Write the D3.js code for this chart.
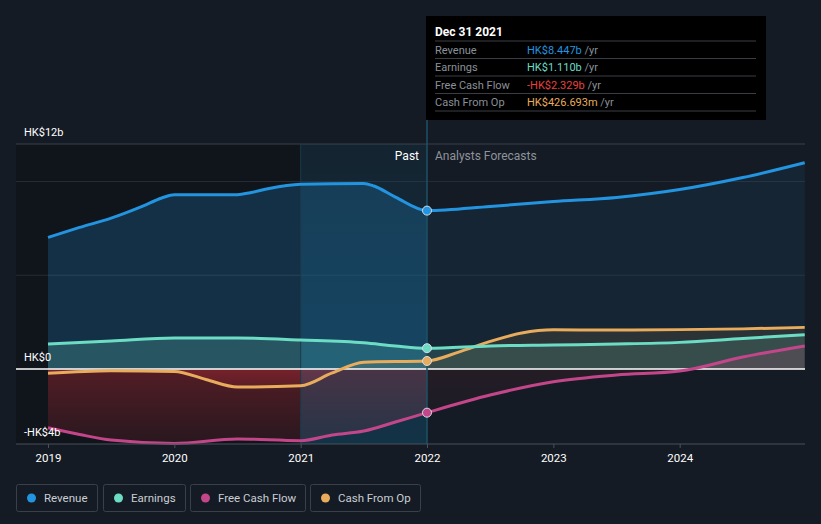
<!DOCTYPE html>
<html><head><meta charset="utf-8">
<script src="https://cdn.jsdelivr.net/npm/d3@7"></script>
<style>
html,body{margin:0;padding:0;background:#151b24;}
svg{display:block;font-family:Roboto,"Open Sans",sans-serif;}
</style></head>
<body><svg id="c" width="821" height="524"></svg>
<script>
// ---- data (values in HK$ billions, time as fractional years) ----
const revenueDates = [2019.0, 2019.25, 2019.5, 2019.75, 2019.9, 2020.0, 2020.5, 2020.6, 2020.75, 2021.0, 2021.5, 2021.58, 2021.75, 2022.0];
const revenueValues = [7.02, 7.55, 8.05, 8.69, 9.12, 9.30, 9.30, 9.40, 9.63, 9.85, 9.90, 9.76, 9.17, 8.447];
const revenueFcDates = [2022.0, 2022.5, 2023.0, 2023.5, 2024.0, 2024.5, 2024.99];
const revenueFcValues = [8.447, 8.67, 8.93, 9.15, 9.57, 10.21, 11.0];

const earningsDates = [2019.0, 2019.5, 2020.0, 2020.5, 2021.0, 2021.5, 2021.75, 2022.0];
const earningsValues = [1.33, 1.49, 1.65, 1.65, 1.55, 1.40, 1.23, 1.11];
const earningsFcDates = [2022.0, 2022.5, 2023.0, 2023.5, 2024.0, 2024.5, 2024.99];
const earningsFcValues = [1.11, 1.23, 1.28, 1.33, 1.42, 1.63, 1.83];

const fcfDates = [2019.0, 2019.25, 2019.5, 2020.0, 2020.5, 2021.0, 2021.25, 2021.5, 2021.75, 2022.0];
const fcfValues = [-3.13, -3.49, -3.79, -3.97, -3.73, -3.82, -3.52, -3.31, -2.83, -2.329];
const fcfFcDates = [2022.0, 2022.5, 2023.0, 2023.5, 2024.0, 2024.5, 2024.99];
const fcfFcValues = [-2.329, -1.39, -0.68, -0.32, -0.11, 0.64, 1.23];

const cfoDates = [2019.0, 2019.5, 2020.0, 2020.25, 2020.5, 2021.0, 2021.25, 2021.5, 2022.0];
const cfoValues = [-0.23, -0.09, -0.13, -0.56, -0.96, -0.89, -0.21, 0.36, 0.427];
const cfoFcDates = [2022.0, 2022.25, 2022.5, 2022.75, 2023.0, 2023.5, 2024.0, 2024.5, 2024.99];
const cfoFcValues = [0.427, 0.9, 1.47, 1.92, 2.09, 2.08, 2.10, 2.14, 2.22];

const xTickValues = [2019, 2020, 2021, 2022, 2023, 2024];
const xTickLabels = ["2019", "2020", "2021", "2022", "2023", "2024"];
const yLabelValues = [12, 0, -4];
const yLabelTexts = ["HK$12b", "HK$0", "-HK$4b"];
const yGridValues = [12, 10, 5];

const seriesNames = ["Revenue", "Earnings", "Free Cash Flow", "Cash From Op"];
const seriesColors = ["#2394df", "#6cdcc4", "#c4468a", "#e8ac5c"];
const tooltipDate = "Dec 31 2021";
const tooltipValues = ["HK$8.447b", "HK$1.110b", "-HK$2.329b", "HK$426.693m"];
const tooltipColors = ["#2394df", "#6cdcc4", "#e8403e", "#e8ac5c"];

// ---- scales ----
const svg = d3.select("#c");
const x = d3.scaleLinear().domain([2019, 2022]).range([48, 427]);
const y = d3.scaleLinear().domain([-4, 12]).range([444, 144]);
const plotL = 16, plotR = 805, now = 2022, hiStart = 2021;
const zeroY = y(0);

const defs = svg.append("defs");
function lg(id, stops, x1, y1, x2, y2) {
  const g = defs.append("linearGradient").attr("id", id)
    .attr("x1", x1).attr("y1", y1).attr("x2", x2).attr("y2", y2);
  stops.forEach(s => g.append("stop").attr("offset", s[0]).attr("stop-color", s[1]).attr("stop-opacity", s[2]));
}
lg("negPast", [[0, "#e0303a", 0.32], [1, "#e0303a", 0.12]], 0, 0, 0, 1);
lg("negFc", [[0, "#e0303a", 0.10], [1, "#e0303a", 0.03]], 0, 0, 0, 1);
lg("hiGrad", [[0, "#0a86bd", 0.08], [1, "#0a86bd", 0.22]], 0, 0, 0, 1);

defs.append("clipPath").attr("id", "cPastPos").append("rect")
  .attr("x", plotL).attr("y", 0).attr("width", x(now) - plotL).attr("height", zeroY);
defs.append("clipPath").attr("id", "cPastNeg").append("rect")
  .attr("x", plotL).attr("y", zeroY).attr("width", x(now) - plotL).attr("height", 200);
defs.append("clipPath").attr("id", "cFcPos").append("rect")
  .attr("x", x(now)).attr("y", 0).attr("width", plotR - x(now)).attr("height", zeroY);
defs.append("clipPath").attr("id", "cFcNeg").append("rect")
  .attr("x", x(now)).attr("y", zeroY).attr("width", plotR - x(now)).attr("height", 200);

// past dark band
svg.append("rect").attr("x", plotL).attr("y", y(12)).attr("width", x(hiStart) - plotL)
  .attr("height", y(-4) - y(12)).attr("fill", "#0f1318").attr("opacity", 0.75);

// gridlines
svg.append("g").selectAll("line").data(yGridValues).join("line")
  .attr("x1", plotL).attr("x2", plotR).attr("y1", d => y(d)).attr("y2", d => y(d))
  .attr("stroke", (d, i) => i === 0 ? "#3a414b" : "#262c36").attr("stroke-width", 1);

// areas + lines
const series = [
  {past: [revenueDates, revenueValues], fc: [revenueFcDates, revenueFcValues], pastOp: 0.22, fcOp: 0.09},
  {past: [earningsDates, earningsValues], fc: [earningsFcDates, earningsFcValues], pastOp: 0.22, fcOp: 0.16},
  {past: [fcfDates, fcfValues], fc: [fcfFcDates, fcfFcValues], pastOp: 0.2, fcOp: 0.16},
  {past: [cfoDates, cfoValues], fc: [cfoFcDates, cfoFcValues], pastOp: 0.15, fcOp: 0.10}
];
const toPts = (ds, vs) => ds.map((d, i) => [d, vs[i]]);
const area = d3.area().x(d => x(d[0])).y0(zeroY).y1(d => y(d[1])).curve(d3.curveMonotoneX);
const line = d3.line().x(d => x(d[0])).y(d => y(d[1])).curve(d3.curveMonotoneX);

const areaG = svg.append("g");
series.forEach((s, i) => {
  const pp = toPts(...s.past), fp = toPts(...s.fc);
  areaG.append("path").attr("d", area(pp)).attr("clip-path", "url(#cPastPos)")
    .attr("fill", seriesColors[i]).attr("fill-opacity", s.pastOp);
  areaG.append("path").attr("d", area(pp)).attr("clip-path", "url(#cPastNeg)")
    .attr("fill", "url(#negPast)");
  areaG.append("path").attr("d", area(fp)).attr("clip-path", "url(#cFcPos)")
    .attr("fill", seriesColors[i]).attr("fill-opacity", s.fcOp);
  areaG.append("path").attr("d", area(fp)).attr("clip-path", "url(#cFcNeg)")
    .attr("fill", "url(#negFc)");
});

// highlight band (last year before now)
svg.append("rect").attr("x", x(hiStart)).attr("y", y(12)).attr("width", x(now) - x(hiStart))
  .attr("height", y(-4) - y(12)).attr("fill", "url(#hiGrad)");
svg.append("line").attr("x1", x(hiStart)).attr("x2", x(hiStart)).attr("y1", y(12)).attr("y2", y(-4))
  .attr("stroke", "#1c3a48").attr("stroke-width", 1);

// zero line
svg.append("line").attr("x1", plotL).attr("x2", plotR).attr("y1", zeroY).attr("y2", zeroY)
  .attr("stroke", "#ffffff").attr("stroke-width", 1.3);

// now vertical line
svg.append("line").attr("x1", x(now)).attr("x2", x(now)).attr("y1", 118).attr("y2", y(-4))
  .attr("stroke", "#1d5266").attr("stroke-width", 1.5);

const lineG = svg.append("g");
[3, 2, 1, 0].forEach(i => {
  const s = series[i];
  const all = toPts(...s.past).concat(toPts(...s.fc).slice(1));
  lineG.append("path").attr("d", line(all)).attr("fill", "none")
    .attr("stroke", seriesColors[i]).attr("stroke-width", 3).attr("stroke-linejoin", "round");
});

// markers at now
const nowVals = [revenueValues, earningsValues, fcfValues, cfoValues].map(a => a[a.length - 1]);
svg.append("g").selectAll("circle").data(nowVals).join("circle")
  .attr("cx", x(now)).attr("cy", d => y(d)).attr("r", 4.5)
  .attr("fill", (d, i) => seriesColors[i]).attr("stroke", "#d8dde3").attr("stroke-width", 1);

// x axis
svg.append("line").attr("x1", plotL).attr("x2", plotR).attr("y1", y(-4)).attr("y2", y(-4))
  .attr("stroke", "#4a515b").attr("stroke-width", 1);
const xAxis = d3.axisBottom(x).tickValues(xTickValues).tickFormat((d, i) => xTickLabels[i]).tickSize(4).tickPadding(6);
const xg = svg.append("g").attr("transform", `translate(0,${y(-4)})`).call(xAxis);
xg.select(".domain").remove();
xg.selectAll(".tick line").attr("stroke", "#4a515b");
xg.selectAll(".tick text").attr("fill", "#ffffff").attr("font-size", 11.5).attr("font-family", "Roboto, sans-serif");

// y labels
svg.append("g").selectAll("text").data(yLabelValues).join("text")
  .attr("x", 24).attr("y", d => y(d) - 8).text((d, i) => yLabelTexts[i])
  .attr("fill", "#ffffff").attr("font-size", 11);

// Past / Analysts Forecasts
svg.append("text").attr("x", x(now) - 8).attr("y", 160).attr("text-anchor", "end")
  .attr("fill", "#ffffff").attr("font-size", 12).text("Past");
svg.append("text").attr("x", x(now) + 8).attr("y", 160)
  .attr("fill", "#8d939b").attr("font-size", 12).text("Analysts Forecasts");

// tooltip
const tt = svg.append("g").attr("transform", "translate(426,16)");
tt.append("rect").attr("width", 340).attr("height", 104).attr("fill", "#000000");
tt.append("text").attr("x", 9).attr("y", 20).attr("fill", "#ffffff").attr("font-size", 12)
  .attr("font-weight", "bold").text(tooltipDate);
[25, 42.5, 60, 77.5, 95].forEach(yy => tt.append("line").attr("x1", 9).attr("x2", 330)
  .attr("y1", yy).attr("y2", yy).attr("stroke", "#3a3e44").attr("stroke-width", 1));
seriesNames.forEach((n, i) => {
  const yy = 37.5 + i * 17.5;
  tt.append("text").attr("x", 9).attr("y", yy).attr("fill", "#8a9099").attr("font-size", 11).text(n);
  const t = tt.append("text").attr("x", 101).attr("y", yy).attr("font-size", 11);
  t.append("tspan").attr("fill", tooltipColors[i]).text(tooltipValues[i]);
  t.append("tspan").attr("fill", "#8a9099").text(" /yr");
});

// legend
const legX = [16, 103, 190, 310], legW = [81, 82, 115, 110];
const lgG = svg.append("g");
seriesNames.forEach((n, i) => {
  const g = lgG.append("g").attr("transform", `translate(${legX[i]},484)`);
  g.append("rect").attr("x", 0.5).attr("y", 0.5).attr("width", legW[i]).attr("height", 27).attr("rx", 2)
    .attr("fill", "none").attr("stroke", "#3a404a").attr("stroke-width", 1);
  g.append("circle").attr("cx", 15.5).attr("cy", 14).attr("r", 4.5).attr("fill", seriesColors[i]);
  g.append("text").attr("x", 28).attr("y", 18).attr("fill", "#c9ced4").attr("font-size", 11.5).text(n);
});
</script></body></html>
